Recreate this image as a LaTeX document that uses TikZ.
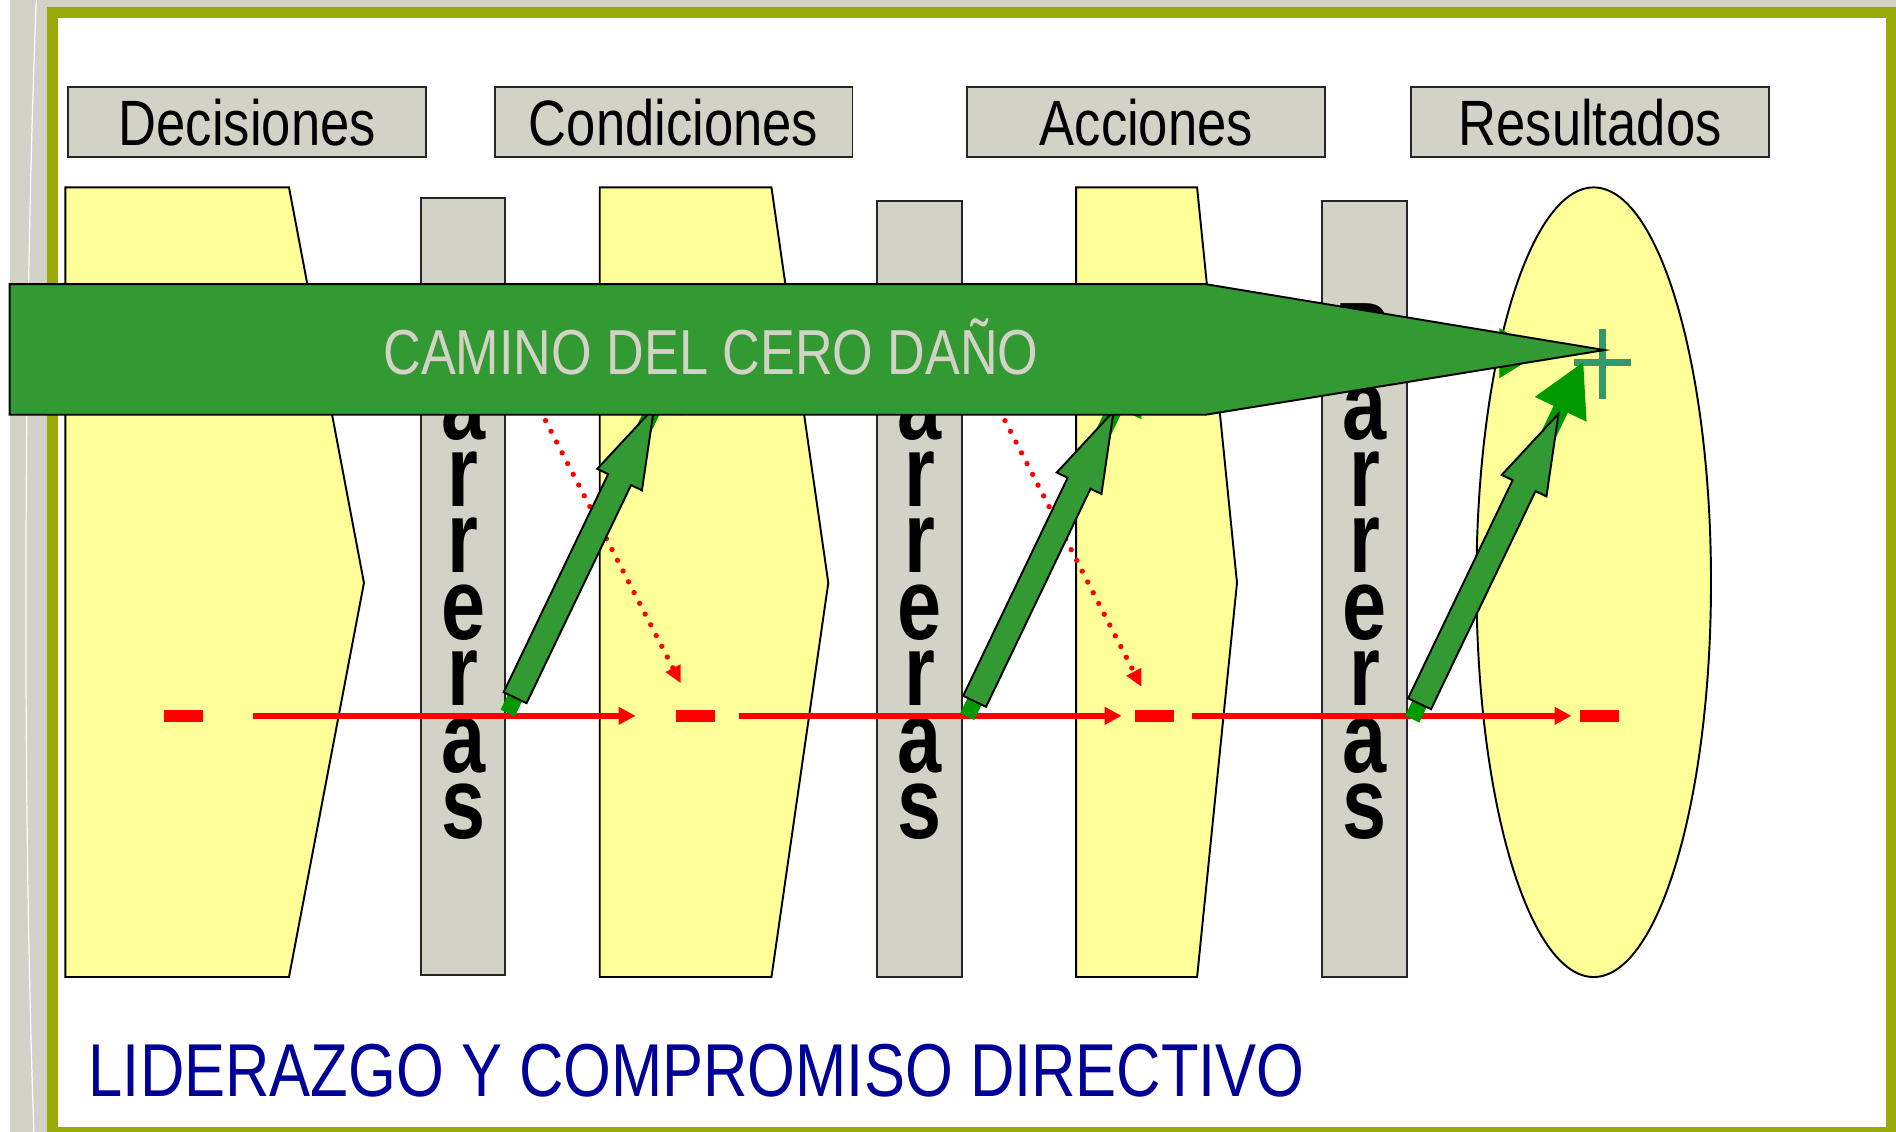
\documentclass[tikz,border=0pt]{standalone}
\usepackage{fontspec}
\setmainfont{Liberation Sans}
\newfontfamily\narrowsans{Liberation Sans}[FakeStretch=0.82]
\newfontfamily\barsans{Liberation Sans}[FakeStretch=0.78]
\usetikzlibrary{arrows.meta, positioning, calc}

\definecolor{panelgray}{RGB}{211,210,199}
\definecolor{paleyellow}{RGB}{255,255,153}
\definecolor{pathgreen}{RGB}{51,153,51}
\definecolor{brightgreen}{RGB}{0,153,0}
\definecolor{crossgreen}{RGB}{51,153,102}
\definecolor{framegreen}{RGB}{153,169,8}
\definecolor{titleblue}{RGB}{0,0,153}

\begin{document}
\begin{tikzpicture}[x=0.5pt, y=-0.5pt]
        \tikzstyle{header} = [draw=black!85, line width=0.8pt, fill=panelgray, minimum width=148pt, minimum height=29pt, inner sep=0pt, font=\narrowsans\fontsize{26.5pt}{30pt}\selectfont]
        \tikzstyle{stage} = [draw=black, line width=0.8pt, fill=paleyellow]
        \tikzstyle{barrier} = [draw=black!85, line width=0.8pt, fill=panelgray, minimum width=35pt, inner sep=0pt]
        \tikzstyle{barlabel} = [anchor=south, align=center, inner sep=0pt, text depth=0pt, font=\barsans\bfseries\fontsize{42pt}{27.5pt}\selectfont]
        \tikzstyle{minus} = [fill=red, minimum width=16pt, minimum height=5pt, inner sep=0pt]
        \tikzstyle{flow} = [red, line width=2.5pt, -{Triangle[length=7pt, width=7pt]}]
        \tikzstyle{leak} = [red, line width=2.2pt, line cap=round, dash pattern=on 0pt off 5pt, -{Triangle[length=7pt, width=6.5pt]}]
        \tikzstyle{push} = [brightgreen, line width=6.5pt, -{Triangle[length=22pt, width=22pt]}]
        \tikzstyle{fat} = [draw=black, line width=0.8pt, fill=pathgreen]

        % page and frame
        \useasboundingbox (0,0) rectangle (1568,936);
        \fill[panelgray] (8,0) rectangle (1568,936);
        \draw[white, line width=0.5pt] (30,0) .. controls (20,250) and (18,650) .. (28,936);
        \fill[framegreen] (39,6) rectangle (1568,936);
        \fill[white] (48,15) rectangle (1560,932);

        % headers
        \node[header] (dec) at (204.5,101) {Decisiones};
        \node[header] (cond) at (557,101) {Condiciones};
        \node[header] (acc) at (948,101) {Acciones};
        \node[header] (res) at (1315,101) {Resultados};

        % stages
        \foreach \l/\r/\t in {54/239/301, 496/638/685, 890/990/1023}
          \draw[stage] (\l,155) -- (\r,155) -- (\t,482) -- (\r,808) -- (\l,808) -- cycle;
        \draw[stage] (1318,481.5) ellipse [x radius=97, y radius=326.5];

        % barriers
        \foreach \x/\t/\b [count=\k] in {383/164/806, 760.5/166/808, 1128.5/166/808} {
          \node[barrier, minimum height={(\b-\t)*0.5pt}] (bar\k) at (\x,{(\t+\b)/2}) {};
          \node[barlabel] (lab\k) at (\x,694) {B\\a\\r\\r\\e\\r\\a\\s};
        }

        % red line
        \foreach \x [count=\k] in {152,575,955,1323}
          \node[minus] (m\k) at (\x,592) {};
        \foreach \a/\b/\s/\e in {1/2/20.5pt/16.5pt, 2/3/10pt/5.5pt, 3/4/7pt/3.5pt}
          \draw[flow, shorten <=\s, shorten >=\e] (m\a) -- (m\b);
        \coordinate (drop1) at (563,565);
        \coordinate (drop2) at (944,568);
        \draw[leak] (442,330) -- (drop1);
        \draw[leak] (822,330) -- (drop2);

        % goal
        \coordinate (goal) at (1325,300);
        \draw[crossgreen, line width=3pt] ([xshift=-11.5pt]goal) -- ([xshift=12pt]goal) ([yshift=14pt]goal) -- ([yshift=-15pt]goal);

        % green arrows
        \draw[push, -{Triangle[length=17pt, width=19.5pt]}] (1150,292) -- (1274,292);
        \foreach \dx/\dy [count=\k] in {0/0, 380/3, 748/5} {
          \coordinate (tail\k) at (426+\dx,577+\dy);
          \coordinate (tip\k) at (541+\dx,337+\dy);
          \draw[push] ($(tail\k)!-0.053!(tip\k)$) -- ($(tail\k)!1.18!(tip\k)$);
          \begin{scope}[shift={(tail\k)}, rotate=64.4]
            \draw[fat] (0,-10.5) -- (200,-10.5) -- (200,-20.5) -- (266,0) -- (200,20.5) -- (200,10.5) -- (0,10.5) -- cycle;
          \end{scope}
        }

        % path arrow
        \draw[fat] (8,235) -- (997,235) -- (1327,289.5) -- (997,343) -- (8,343) -- cycle;
        \node[anchor=base, inner sep=0pt, text=panelgray, font=\narrowsans\fontsize{26.3pt}{30pt}\selectfont] (camino) at (588,310) {CAMINO DEL CERO DAÑO};

        \node[anchor=base west, inner sep=0pt, text=titleblue, font=\narrowsans\fontsize{31pt}{34pt}\selectfont] (lider) at (73,907) {LIDERAZGO Y COMPROMISO DIRECTIVO};
      \end{tikzpicture}
\end{document}
